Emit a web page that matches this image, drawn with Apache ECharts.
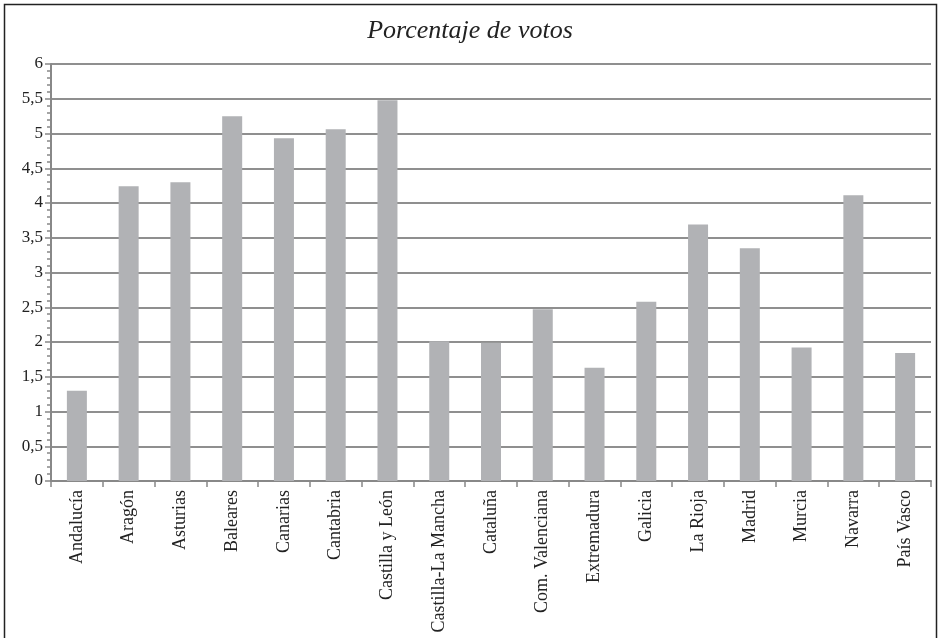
<!DOCTYPE html>
<html><head><meta charset="utf-8">
<script src="https://cdn.jsdelivr.net/npm/echarts@6/dist/echarts.min.js"></script>
<style>html,body{margin:0;padding:0;background:#fff}#c{width:940px;height:638px}</style>
</head><body><div id="c"></div>
<script>
const categories = ["Andalucía","Aragón","Asturias","Baleares","Canarias","Cantabria","Castilla y León","Castilla-La Mancha","Cataluña","Com. Valenciana","Extremadura","Galicia","La Rioja","Madrid","Murcia","Navarra","País Vasco"];
const values = [1.3,4.24,4.3,5.25,4.93,5.06,5.48,2.01,1.99,2.47,1.63,2.58,3.69,3.35,1.92,4.11,1.84];
const titleText = "Porcentaje de votos";
const chart = echarts.init(document.getElementById('c'));
const F = "'Liberation Serif','DejaVu Serif',serif";
chart.setOption({
  animation:false,
  backgroundColor:'#fff',
  title:{text:titleText,left:'center',top:13,textStyle:{fontFamily:F,fontStyle:'italic',fontWeight:'normal',fontSize:26,color:'#222'}},
  graphic:[{type:'rect',shape:{x:4.5,y:4.5,width:932,height:640},style:{fill:'none',stroke:'#222',lineWidth:1.5},silent:true}],
  grid:{left:51,right:9,top:64,bottom:157},
  xAxis:{type:'category',data:categories,boundaryGap:true,
    axisLine:{lineStyle:{color:'#888',width:2}},
    axisTick:{show:true,alignWithLabel:false,length:6,lineStyle:{color:'#888',width:1.5}},
    axisLabel:{rotate:90,interval:0,fontFamily:F,fontSize:18,color:'#222',margin:9}},
  yAxis:{type:'value',min:0,max:6,interval:0.5,
    axisLine:{show:true,lineStyle:{color:'#888',width:2}},
    axisTick:{show:true,length:6,lineStyle:{color:'#888',width:1.5}},
    minorTick:{show:true,splitNumber:5,length:4,lineStyle:{color:'#888',width:1.5}},
    splitLine:{show:true,lineStyle:{color:'#8f8f8f',width:2}},
    axisLabel:{fontFamily:F,fontSize:17,color:'#222',margin:8,formatter:v=>String(v).replace('.',',')}},
  series:[{type:'bar',data:values,barWidth:20,itemStyle:{color:'#b1b2b5'}}]
});
</script></body></html>
